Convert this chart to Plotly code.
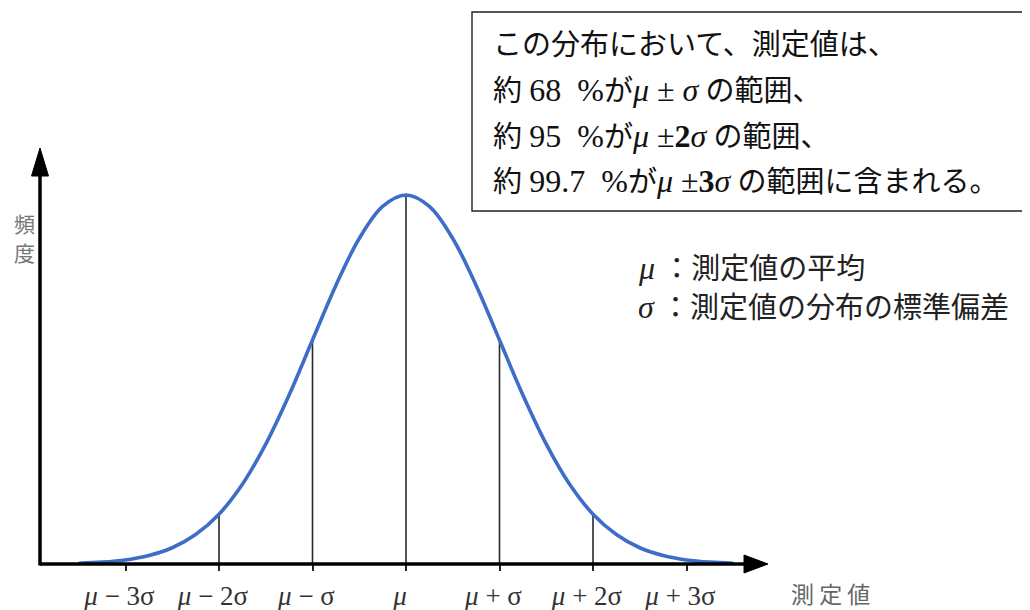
import plotly.graph_objects as go

# ---- data (in units of sigma from the mean; heights relative to the peak) ----
curve_x = [-3.5, -3.25, -3.0, -2.75, -2.5, -2.25, -2.0, -1.75, -1.5, -1.25, -1.0, -0.75, -0.5, -0.25,
           0.0, 0.25, 0.5, 0.75, 1.0, 1.25, 1.5, 1.75, 2.0, 2.25, 2.5, 2.75, 3.0, 3.25, 3.5]
curve_y = [0.002, 0.005, 0.011, 0.023, 0.044, 0.080, 0.135, 0.216, 0.325, 0.458, 0.607, 0.755, 0.882, 0.969,
           1.0, 0.969, 0.882, 0.755, 0.607, 0.458, 0.325, 0.216, 0.135, 0.080, 0.044, 0.023, 0.011, 0.005, 0.002]
line_x = [-2, -1, 0, 1, 2]
line_h = [0.135, 0.607, 1.0, 0.607, 0.135]
tick_vals = [-3, -2, -1, 0, 1, 2, 3]
tick_text = ["<i>μ</i> − 3σ", "<i>μ</i> − 2σ", "<i>μ</i> − σ", "<i>μ</i>",
             "<i>μ</i> + σ", "<i>μ</i> + 2σ", "<i>μ</i> + 3σ"]


def L(s):
    return f'<span style="font-size:32px">{s}</span>'


box_lines = ["この分布において、測定値は、",
             f"約 {L('68&nbsp; %')}が{L('<i>μ</i> ± <i>σ</i>')} の範囲、",
             f"約 {L('95&nbsp; %')}が{L('<i>μ</i> ±<b>2</b><i>σ</i>')} の範囲、",
             f"約 {L('99.7&nbsp; %')}が{L('<i>μ</i> ±<b>3</b><i>σ</i>')} の範囲に含まれる。"]
legend_lines = [f"{L('<i>μ</i>')} ：測定値の平均", f"{L('<i>σ</i>')} ：測定値の分布の標準偏差"]
x_title = "測 定 値"
y_title = ["頻", "度"]

# page body has an 8px margin; screen pixel p -> figure pixel p - OFF
OFF = 8
W, H = 1022, 602
BOTTOM = 46
X0PX, SIGPX, PEAKPX = 406 - OFF, 93.5, 369
PH = H - BOTTOM

vx, vy = [], []
for x, h in zip(line_x, line_h):
    vx += [x, x, None]
    vy += [0, h, None]

fig = go.Figure()
fig.add_trace(go.Scatter(x=vx, y=vy, mode="lines", line=dict(color="#2a2a2a", width=1.6),
                         hoverinfo="skip", showlegend=False))
fig.add_trace(go.Scatter(x=curve_x, y=curve_y, mode="lines",
                         line=dict(color="#3d6dc6", width=3.6, shape="spline", smoothing=1),
                         hoverinfo="skip", showlegend=False))


def px(p):
    return (p - OFF) / W


def py(p):
    # paper coordinates span the plot area
    return 1 - (p - OFF) / PH


shapes = []
# axis lines
shapes.append(dict(type="line", xref="paper", yref="paper", x0=px(40), x1=px(752), y0=py(564), y1=py(564),
                   line=dict(color="black", width=3.5)))
shapes.append(dict(type="line", xref="paper", yref="paper", x0=px(40), x1=px(40), y0=py(565.5), y1=py(172),
                   line=dict(color="black", width=3.5)))
# arrow heads
shapes.append(dict(type="path", xref="paper", yref="paper",
                   path=f"M {px(744)},{py(555)} L {px(768)},{py(564)} L {px(744)},{py(573)} Z",
                   fillcolor="black", line=dict(color="black", width=1)))
shapes.append(dict(type="path", xref="paper", yref="paper",
                   path=f"M {px(31.5)},{py(176)} L {px(40)},{py(148)} L {px(48.5)},{py(176)} Z",
                   fillcolor="black", line=dict(color="black", width=1)))
# text box
shapes.append(dict(type="rect", xref="paper", yref="paper", x0=px(472), x1=px(1028), y0=py(211), y1=py(12),
                   line=dict(color="#222", width=1.4), fillcolor="white", layer="below"))

annotations = []
serif = "Liberation Serif, Noto Sans CJK JP, serif"
for i, t in enumerate(box_lines):
    annotations.append(dict(xref="paper", yref="paper", x=px(491), y=py([45, 90, 136, 181][i]), text=t,
                            showarrow=False, xanchor="left", yanchor="middle",
                            font=dict(family=serif, size=29, color="#111")))
for i, t in enumerate(legend_lines):
    annotations.append(dict(xref="paper", yref="paper", x=px(636), y=py([268, 307][i]), text=t,
                            showarrow=False, xanchor="left", yanchor="middle",
                            font=dict(family=serif, size=29, color="#222")))
annotations.append(dict(xref="paper", yref="paper", x=px(830), y=py(593), text=x_title, showarrow=False,
                        xanchor="center", yanchor="middle",
                        font=dict(family="Noto Sans CJK JP", size=23, color="#666")))
for i, t in enumerate(y_title):
    annotations.append(dict(xref="paper", yref="paper", x=px(24), y=py([223, 252][i]), text=t, showarrow=False,
                            xanchor="center", yanchor="middle", borderpad=0,
                            font=dict(family="Noto Sans CJK JP", size=21, color="#777")))

fig.update_layout(
    width=W, height=H,
    margin=dict(l=0, r=0, t=0, b=BOTTOM),
    paper_bgcolor="white", plot_bgcolor="rgba(0,0,0,0)",
    showlegend=False,
    shapes=shapes, annotations=annotations,
    xaxis=dict(range=[-X0PX / SIGPX, (W - X0PX) / SIGPX], showgrid=False, zeroline=False, showline=False,
               tickmode="array", tickvals=tick_vals, ticktext=tick_text,
               ticks="outside", ticklen=6, tickwidth=1.5, tickcolor="#222",
               ticklabelshift=-6, ticklabelstandoff=2,
               tickfont=dict(family="Liberation Serif, DejaVu Serif", size=27, color="#333"),
               fixedrange=True),
    yaxis=dict(range=[0, PH / PEAKPX], visible=False, fixedrange=True),
)

fig.write_html("out.html")
